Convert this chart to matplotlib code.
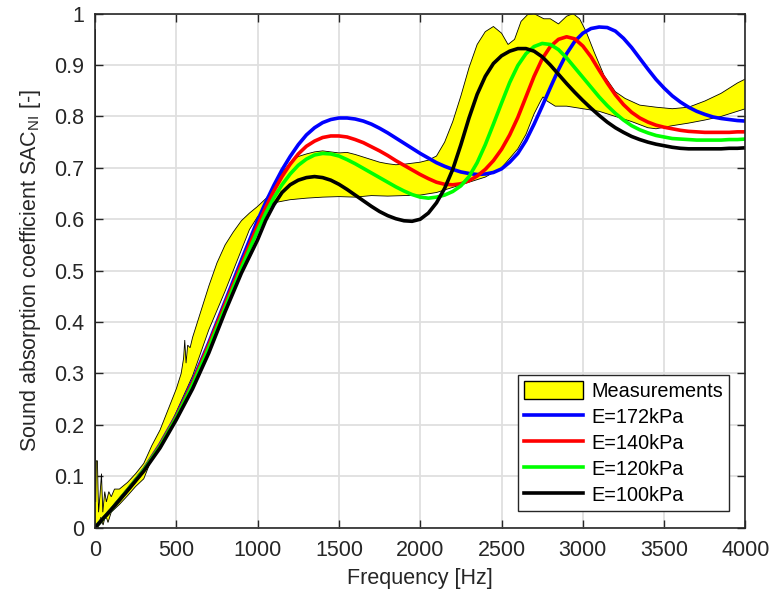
import matplotlib
matplotlib.use("Agg")
import matplotlib.pyplot as plt
from matplotlib.patches import Patch
from matplotlib.lines import Line2D

plt.rcParams['font.family'] = ['Liberation Sans', 'DejaVu Sans']
plt.rcParams['mathtext.fontset'] = 'custom'
plt.rcParams['mathtext.rm'] = 'Liberation Sans'
plt.rcParams['mathtext.it'] = 'Liberation Sans'

# ---- Measurement band (upper / lower envelope) ----
meas_upper_f = [0, 4, 8, 15, 22, 30, 40, 48, 60, 70, 85, 100, 120, 150, 200, 250, 300, 350, 400,
                450, 500, 530, 545, 552, 560, 570, 585, 600, 650, 700, 750, 800, 850, 900,
                950, 1000, 1050, 1100, 1150, 1200, 1250, 1300, 1350, 1400, 1450, 1500, 1550,
                1600, 1650, 1700, 1750, 1800, 1850, 1900, 1950, 2000, 2050, 2100, 2150, 2200,
                2250, 2300, 2350, 2400, 2450, 2500, 2540, 2580, 2620, 2660, 2700, 2730, 2760,
                2800, 2850, 2900, 2940, 2980, 3020, 3070, 3130, 3200, 3260, 3350, 3450, 3550,
                3650, 3750, 3850, 3950, 4000]
meas_upper = [0.97, 0.05, 0.13, 0.13, 0.03, 0.06, 0.105, 0.03, 0.07, 0.05, 0.07, 0.06, 0.075,
              0.075, 0.088, 0.105, 0.125, 0.16, 0.19, 0.23, 0.27, 0.30, 0.33, 0.365, 0.32,
              0.355, 0.35, 0.37, 0.42, 0.47, 0.515, 0.55, 0.575, 0.597, 0.612, 0.625, 0.64,
              0.66, 0.69, 0.71, 0.722, 0.727, 0.731, 0.733, 0.731, 0.729, 0.73, 0.726, 0.721,
              0.716, 0.711, 0.708, 0.706, 0.707, 0.709, 0.711, 0.715, 0.723, 0.75, 0.79, 0.84,
              0.895, 0.94, 0.965, 0.975, 0.962, 0.94, 0.95, 0.985, 0.998, 1.0, 0.995, 0.99,
              0.99, 0.98, 0.995, 1.0, 0.99, 0.965, 0.925, 0.88, 0.848, 0.835, 0.822, 0.818,
              0.815, 0.818, 0.83, 0.845, 0.865, 0.873]

meas_lower_f = [0, 20, 35, 50, 65, 80, 100, 150, 200, 250, 300, 350, 400, 450, 500, 600, 700,
                800, 900, 950, 1000, 1050, 1100, 1200, 1300, 1400, 1500, 1600, 1700, 1800,
                1900, 2000, 2100, 2200, 2300, 2400, 2500, 2600, 2650, 2700, 2740, 2755, 2780,
                2830, 2900, 3000, 3100, 3200, 3300, 3400, 3450, 3550, 3650, 3750, 3850, 3950,
                4000]
meas_lower = [0.0, 0.0, 0.02, 0.005, 0.025, 0.01, 0.03, 0.045, 0.062, 0.08, 0.095, 0.135,
              0.165, 0.19, 0.225, 0.295, 0.385, 0.46, 0.54, 0.58, 0.605, 0.62, 0.632, 0.638,
              0.641, 0.643, 0.644, 0.643, 0.646, 0.645, 0.646, 0.647, 0.652, 0.662, 0.672,
              0.682, 0.70, 0.737, 0.765, 0.805, 0.83, 0.838, 0.83, 0.82, 0.82, 0.815, 0.81,
              0.80, 0.79, 0.778, 0.776, 0.782, 0.787, 0.793, 0.80, 0.81, 0.815]

# ---- Model curves (frequency grid in Hz) ----
freq = list(range(0, 1000, 100)) + list(range(1000, 4001, 50))

sac_172 = [0.0, 0.035, 0.073, 0.113, 0.162, 0.218, 0.285, 0.36, 0.44, 0.52,
           0.598, 0.633, 0.666, 0.696, 0.722, 0.745, 0.764, 0.778, 0.788, 0.794,
           0.797, 0.797, 0.795, 0.791, 0.785, 0.777, 0.768, 0.758, 0.748, 0.738,
           0.728, 0.719, 0.710, 0.703, 0.697, 0.692, 0.689, 0.687, 0.688, 0.691,
           0.698, 0.711, 0.728, 0.753, 0.785, 0.82, 0.856, 0.891, 0.922, 0.946,
           0.962, 0.971, 0.974, 0.973, 0.966, 0.952, 0.934, 0.913, 0.892, 0.872,
           0.855, 0.84, 0.828, 0.818, 0.81, 0.804, 0.799, 0.796, 0.794, 0.792, 0.791]
sac_140 = [0.0, 0.035, 0.073, 0.112, 0.16, 0.216, 0.282, 0.356, 0.435, 0.512,
           0.588, 0.623, 0.655, 0.683, 0.707, 0.727, 0.742, 0.752, 0.759, 0.762,
           0.762, 0.760, 0.755, 0.749, 0.741, 0.733, 0.724, 0.714, 0.705, 0.696,
           0.687, 0.679, 0.672, 0.668, 0.667, 0.669, 0.675, 0.684, 0.697, 0.714,
           0.736, 0.764, 0.798, 0.838, 0.878, 0.912, 0.936, 0.950, 0.955, 0.951,
           0.937, 0.916, 0.890, 0.865, 0.842, 0.823, 0.808, 0.797, 0.789, 0.783,
           0.779, 0.776, 0.773, 0.771, 0.770, 0.769, 0.769, 0.769, 0.769, 0.770, 0.770]
sac_120 = [0.0, 0.035, 0.073, 0.112, 0.158, 0.214, 0.278, 0.35, 0.428, 0.505,
           0.578, 0.612, 0.642, 0.667, 0.688, 0.705, 0.717, 0.725, 0.728, 0.727,
           0.723, 0.716, 0.708, 0.699, 0.690, 0.681, 0.672, 0.663, 0.655, 0.648,
           0.643, 0.641, 0.643, 0.647, 0.654, 0.665, 0.683, 0.71, 0.745, 0.785,
           0.826, 0.866, 0.899, 0.922, 0.936, 0.942, 0.940, 0.930, 0.914, 0.895,
           0.876, 0.857, 0.838, 0.821, 0.806, 0.793, 0.782, 0.774, 0.768, 0.763,
           0.760, 0.757, 0.756, 0.755, 0.754, 0.754, 0.754, 0.754, 0.755, 0.755, 0.756]
sac_100 = [0.0, 0.035, 0.072, 0.11, 0.155, 0.21, 0.27, 0.34, 0.42, 0.495,
           0.56, 0.598, 0.628, 0.652, 0.667, 0.676, 0.681, 0.683, 0.681, 0.676,
           0.668, 0.658, 0.647, 0.636, 0.625, 0.615, 0.607, 0.601, 0.597, 0.596,
           0.600, 0.612, 0.632, 0.66, 0.697, 0.745, 0.797, 0.843, 0.878, 0.903,
           0.918, 0.927, 0.932, 0.932, 0.927, 0.916, 0.900, 0.882, 0.864, 0.847,
           0.831, 0.816, 0.802, 0.789, 0.778, 0.769, 0.761, 0.755, 0.750, 0.746,
           0.743, 0.740, 0.738, 0.737, 0.737, 0.737, 0.737, 0.737, 0.738, 0.738, 0.739]

labels = ['Measurements', 'E=172kPa', 'E=140kPa', 'E=120kPa', 'E=100kPa']
colors = ['#0000ff', '#ff0000', '#00ff00', '#000000']

fig = plt.figure(figsize=(7.71, 6.01), dpi=100)
ax = fig.add_axes([0.1232, 0.1221, 0.8437, 0.8552])

txt = '#262626'
# Band polygon
poly_x = meas_upper_f + meas_lower_f[::-1]
poly_y = meas_upper + meas_lower[::-1]
ax.fill(poly_x, poly_y, facecolor='#ffff00', edgecolor='black', linewidth=0.6, zorder=2)

for vals, c in zip([sac_172, sac_140, sac_120, sac_100], colors):
    ax.plot(freq, vals, color=c, linewidth=2.6, zorder=3, solid_joinstyle='round')

ax.set_xlim(0, 4000)
ax.set_ylim(0, 1)
ax.set_xticks(range(0, 4001, 500))
ax.set_yticks([i / 10 for i in range(11)])
ax.set_yticklabels(['0', '0.1', '0.2', '0.3', '0.4', '0.5', '0.6', '0.7', '0.8', '0.9', '1'])
ax.grid(True, color='#dfdfdf', linewidth=1.3, zorder=0)
ax.set_axisbelow(True)
ax.tick_params(direction='in', top=True, right=True, length=6, width=1.0,
               colors=txt, labelsize=15.5)
ax.tick_params(axis='x', pad=9)
ax.tick_params(axis='y', pad=8)
for s in ax.spines.values():
    s.set_color(txt)
    s.set_linewidth(1.2)
    s.set_zorder(5)

ax.set_xlabel('Frequency [Hz]', fontsize=15.5, color=txt, labelpad=5)
ax.set_ylabel(r'Sound absorption coefficient SAC$_{\mathrm{NI}}$ [-]', fontsize=15.5,
              color=txt, labelpad=8)

handles = [Patch(facecolor='#ffff00', edgecolor='black', linewidth=1.0)]
handles += [Line2D([0], [0], color=c, linewidth=2.6) for c in colors]
leg = ax.legend(handles, labels, loc='lower right', bbox_to_anchor=(0.9747, 0.0323),
                borderaxespad=0, fontsize=14.3, frameon=True, fancybox=False,
                edgecolor=txt, framealpha=1, handlelength=3.0, handleheight=1.0,
                labelspacing=0.32, borderpad=0.3, handletextpad=0.4)
leg.get_frame().set_linewidth(1.0)
for t in leg.get_texts():
    t.set_color('black')

fig.savefig('out.png', dpi=100)
